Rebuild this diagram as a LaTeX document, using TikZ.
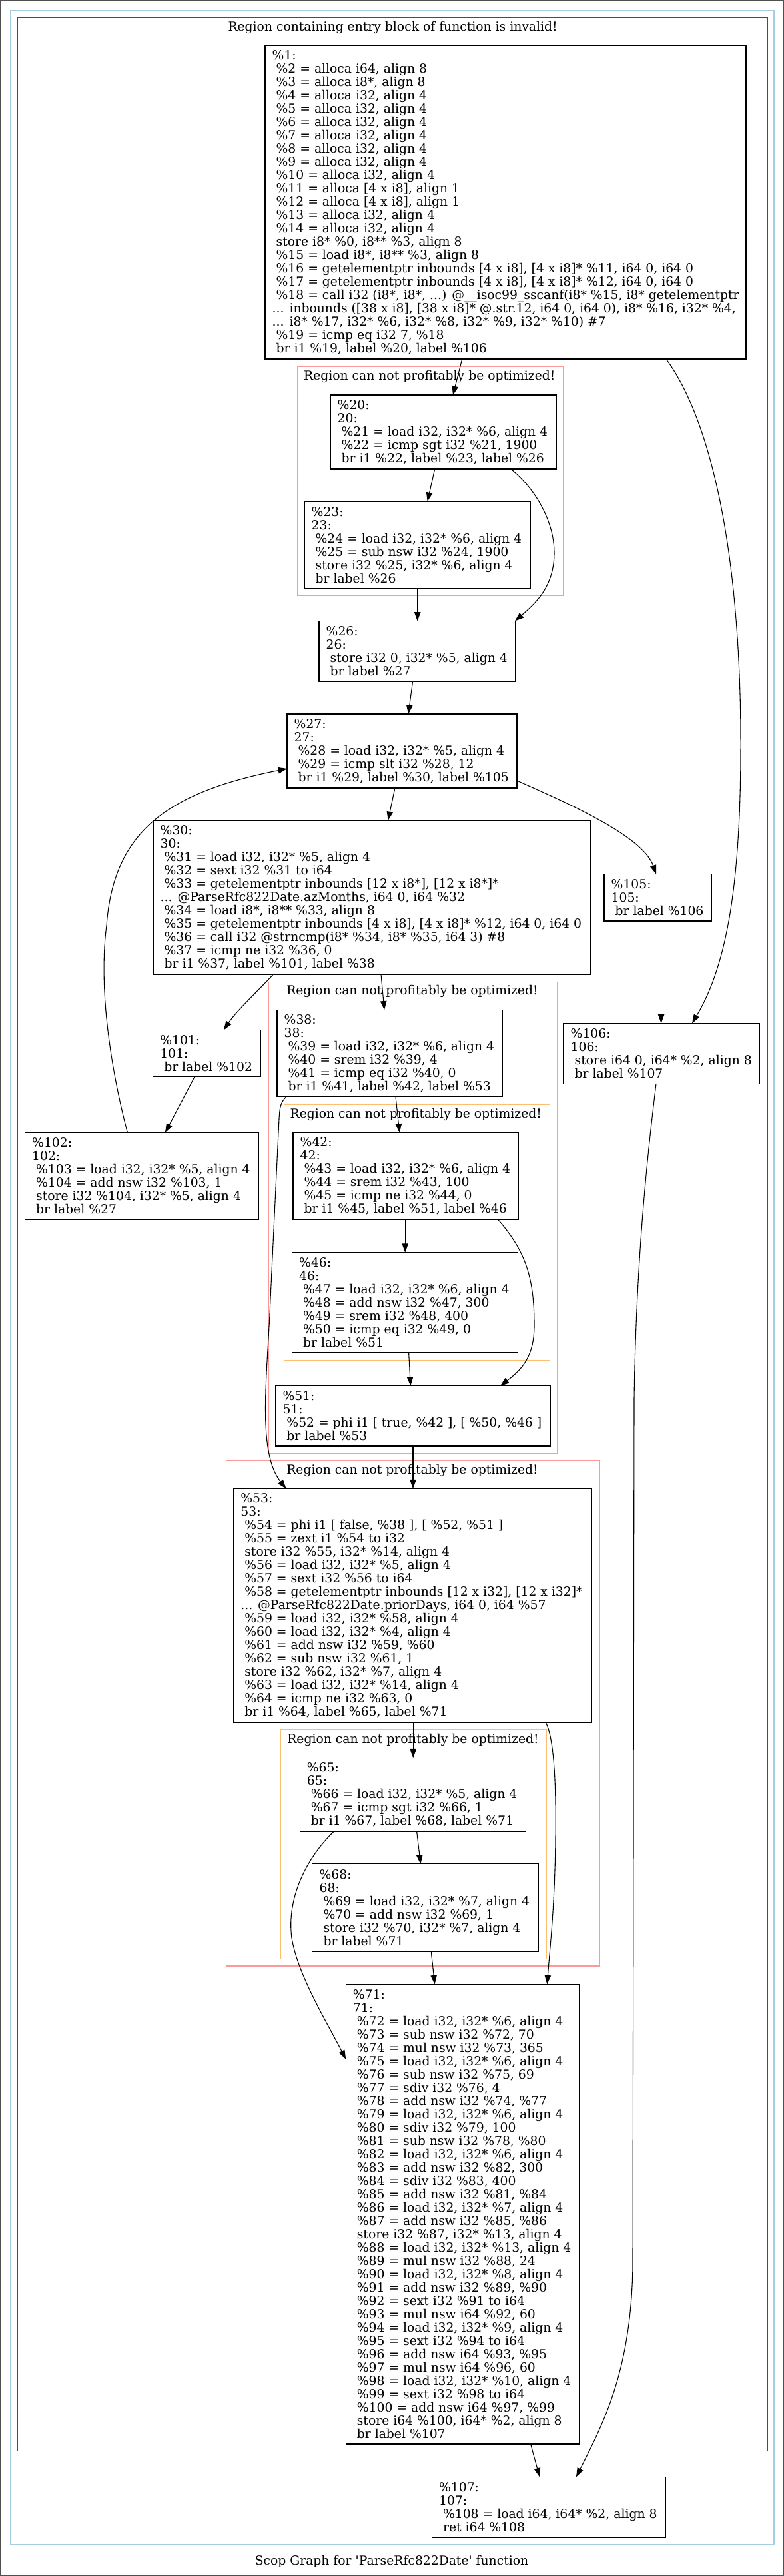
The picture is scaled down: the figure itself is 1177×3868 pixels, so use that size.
\documentclass[tikz,border=0pt]{standalone}
\usepackage{fontspec}
\setmainfont{DejaVu Serif}[Ligatures=TeXOff]
\usetikzlibrary{arrows.meta,fit}
\definecolor{lb}{HTML}{A6CEE3}
\definecolor{pk}{HTML}{FB9A99}
\definecolor{og}{HTML}{FDBF6F}
\definecolor{fr}{HTML}{505050}
\newcommand\nl{\\\hspace*{0.318em}}
\begin{document}
\begin{tikzpicture}[x=1pt,y=-1pt,
 box/.style={draw, line width=1.1pt, inner sep=0pt, outer sep=0pt},
 txt/.style={inner sep=0pt, anchor=west, align=left, font=\fontsize{18.75}{20}\selectfont},
 ttl/.style={inner sep=0pt, font=\fontsize{18.75}{20}\selectfont},
 edge/.style={draw, line width=1.1pt, -{Triangle[length=13.4pt,width=9.4pt]}},
 clu/.style={line width=1.34pt}]
\useasboundingbox (0,0) rectangle (1177,3868);
\draw[fr, line width=1.5pt] (0.75,0.75) rectangle (1176.25,3867.25);
\draw[lb, clu] (16,16) rectangle (1162,3821);
\draw[red, clu] (26.7,26.7) rectangle (1152.5,3680.7);
\node[ttl] (tr) at (589.6,41.7) {Region containing entry block of function is invalid!};
\draw[pk, clu] (446.7,550.7) rectangle (845.3,894.6);
\node[ttl] (tpa) at (644.8,565.4) {Region can not profitably be optimized!};
\draw[pk, clu] (403.6,1474.6) rectangle (836.2,2182.3);
\node[ttl] (tpb) at (618.9,1488.6) {Region can not profitably be optimized!};
\draw[og, clu] (426.2,1658.2) rectangle (825.5,2042.3);
\node[ttl] (tob) at (624.3,1673.2) {Region can not profitably be optimized!};
\draw[pk, clu] (339.6,2193.3) rectangle (900.3,2951.8);
\node[ttl] (tpc) at (619,2208.3) {Region can not profitably be optimized!};
\draw[og, clu] (421.2,2597.1) rectangle (820,2941.4);
\node[ttl] (toc) at (620,2612) {Region can not profitably be optimized!};
\node[ttl] (cap) at (588,3846) {Scop Graph for 'ParseRfc822Date' function};

\node[box, fit={(398,68)(1120,539)}] (n1) {};
\node[box, fit={(496,593)(835,704)}] (n20) {};
\node[box, fit={(457,753)(796,884)}] (n23) {};
\node[box, fit={(479,932.5)(774,1023)}] (n26) {};
\node[box, fit={(431,1072)(776,1183)}] (n27) {};
\node[box, fit={(230,1232)(887,1463)}] (n30) {};
\node[box, fit={(907,1312.5)(1068,1383)}] (n105) {};
\node[box, fit={(229.6,1546.4)(391.1,1616.8)}] (n101) {};
\node[box, fit={(37.5,1700.7)(388.8,1831.4)}] (n102) {};
\node[box, fit={(416,1516.4)(754.4,1646.8)}] (n38) {};
\node[box, fit={(440,1700.7)(778.3,1831.4)}] (n42) {};
\node[box, fit={(438.5,1880.7)(777.2,2031)}] (n46) {};
\node[box, fit={(413.8,2080.7)(826.4,2171)}] (n51) {};
\node[box, fit={(846,1536.4)(1140.2,1627.1)}] (n106) {};
\node[box, fit={(350.7,2235.3)(888.8,2586)}] (n53) {};
\node[box, fit={(450.2,2639.3)(789.4,2750)}] (n65) {};
\node[box, fit={(468.9,2798.9)(808,2930)}] (n68) {};
\node[box, fit={(519.2,2979.3)(870,3670)}] (n71) {};
\node[box, fit={(648.4,3719.3)(999.1,3810)}] (n107) {};

\node[txt] (t1) at ([xshift=10.5]n1.west) {\%1:\nl \%2 = alloca i64, align 8\nl \%3 = alloca i8*, align 8\nl \%4 = alloca i32, align 4\nl \%5 = alloca i32, align 4\nl \%6 = alloca i32, align 4\nl \%7 = alloca i32, align 4\nl \%8 = alloca i32, align 4\nl \%9 = alloca i32, align 4\nl \%10 = alloca i32, align 4\nl \%11 = alloca [4 x i8], align 1\nl \%12 = alloca [4 x i8], align 1\nl \%13 = alloca i32, align 4\nl \%14 = alloca i32, align 4\nl store i8* \%0, i8** \%3, align 8\nl \%15 = load i8*, i8** \%3, align 8\nl \%16 = getelementptr inbounds [4 x i8], [4 x i8]* \%11, i64 0, i64 0\nl \%17 = getelementptr inbounds [4 x i8], [4 x i8]* \%12, i64 0, i64 0\nl \%18 = call i32 (i8*, i8*, ...) @\_\_isoc99\_sscanf(i8* \%15, i8* getelementptr\\... inbounds ([38 x i8], [38 x i8]* @.str.12, i64 0, i64 0), i8* \%16, i32* \%4,\\... i8* \%17, i32* \%6, i32* \%8, i32* \%9, i32* \%10) \#7\nl \%19 = icmp eq i32 7, \%18\nl br i1 \%19, label \%20, label \%106};
\node[txt] (t20) at ([xshift=10.5]n20.west) {\%20:\\20:\nl \%21 = load i32, i32* \%6, align 4\nl \%22 = icmp sgt i32 \%21, 1900\nl br i1 \%22, label \%23, label \%26};
\node[txt] (t23) at ([xshift=10.5]n23.west) {\%23:\\23:\nl \%24 = load i32, i32* \%6, align 4\nl \%25 = sub nsw i32 \%24, 1900\nl store i32 \%25, i32* \%6, align 4\nl br label \%26};
\node[txt] (t26) at ([xshift=10.5]n26.west) {\%26:\\26:\nl store i32 0, i32* \%5, align 4\nl br label \%27};
\node[txt] (t27) at ([xshift=10.5]n27.west) {\%27:\\27:\nl \%28 = load i32, i32* \%5, align 4\nl \%29 = icmp slt i32 \%28, 12\nl br i1 \%29, label \%30, label \%105};
\node[txt] (t30) at ([xshift=10.5]n30.west) {\%30:\\30:\nl \%31 = load i32, i32* \%5, align 4\nl \%32 = sext i32 \%31 to i64\nl \%33 = getelementptr inbounds [12 x i8*], [12 x i8*]*\\... @ParseRfc822Date.azMonths, i64 0, i64 \%32\nl \%34 = load i8*, i8** \%33, align 8\nl \%35 = getelementptr inbounds [4 x i8], [4 x i8]* \%12, i64 0, i64 0\nl \%36 = call i32 @strncmp(i8* \%34, i8* \%35, i64 3) \#8\nl \%37 = icmp ne i32 \%36, 0\nl br i1 \%37, label \%101, label \%38};
\node[txt] (t105) at ([xshift=10.5]n105.west) {\%105:\\105:\nl br label \%106};
\node[txt] (t101) at ([xshift=10.5]n101.west) {\%101:\\101:\nl br label \%102};
\node[txt] (t102) at ([xshift=10.5]n102.west) {\%102:\\102:\nl \%103 = load i32, i32* \%5, align 4\nl \%104 = add nsw i32 \%103, 1\nl store i32 \%104, i32* \%5, align 4\nl br label \%27};
\node[txt] (t38) at ([xshift=10.5]n38.west) {\%38:\\38:\nl \%39 = load i32, i32* \%6, align 4\nl \%40 = srem i32 \%39, 4\nl \%41 = icmp eq i32 \%40, 0\nl br i1 \%41, label \%42, label \%53};
\node[txt] (t42) at ([xshift=10.5]n42.west) {\%42:\\42:\nl \%43 = load i32, i32* \%6, align 4\nl \%44 = srem i32 \%43, 100\nl \%45 = icmp ne i32 \%44, 0\nl br i1 \%45, label \%51, label \%46};
\node[txt] (t46) at ([xshift=10.5]n46.west) {\%46:\\46:\nl \%47 = load i32, i32* \%6, align 4\nl \%48 = add nsw i32 \%47, 300\nl \%49 = srem i32 \%48, 400\nl \%50 = icmp eq i32 \%49, 0\nl br label \%51};
\node[txt] (t51) at ([xshift=10.5]n51.west) {\%51:\\51:\nl \%52 = phi i1 [ true, \%42 ], [ \%50, \%46 ]\nl br label \%53};
\node[txt] (t106) at ([xshift=10.5]n106.west) {\%106:\\106:\nl store i64 0, i64* \%2, align 8\nl br label \%107};
\node[txt] (t53) at ([xshift=10.5]n53.west) {\%53:\\53:\nl \%54 = phi i1 [ false, \%38 ], [ \%52, \%51 ]\nl \%55 = zext i1 \%54 to i32\nl store i32 \%55, i32* \%14, align 4\nl \%56 = load i32, i32* \%5, align 4\nl \%57 = sext i32 \%56 to i64\nl \%58 = getelementptr inbounds [12 x i32], [12 x i32]*\\... @ParseRfc822Date.priorDays, i64 0, i64 \%57\nl \%59 = load i32, i32* \%58, align 4\nl \%60 = load i32, i32* \%4, align 4\nl \%61 = add nsw i32 \%59, \%60\nl \%62 = sub nsw i32 \%61, 1\nl store i32 \%62, i32* \%7, align 4\nl \%63 = load i32, i32* \%14, align 4\nl \%64 = icmp ne i32 \%63, 0\nl br i1 \%64, label \%65, label \%71};
\node[txt] (t65) at ([xshift=10.5]n65.west) {\%65:\\65:\nl \%66 = load i32, i32* \%5, align 4\nl \%67 = icmp sgt i32 \%66, 1\nl br i1 \%67, label \%68, label \%71};
\node[txt] (t68) at ([xshift=10.5]n68.west) {\%68:\\68:\nl \%69 = load i32, i32* \%7, align 4\nl \%70 = add nsw i32 \%69, 1\nl store i32 \%70, i32* \%7, align 4\nl br label \%71};
\node[txt] (t71) at ([xshift=10.5]n71.west) {\%71:\\71:\nl \%72 = load i32, i32* \%6, align 4\nl \%73 = sub nsw i32 \%72, 70\nl \%74 = mul nsw i32 \%73, 365\nl \%75 = load i32, i32* \%6, align 4\nl \%76 = sub nsw i32 \%75, 69\nl \%77 = sdiv i32 \%76, 4\nl \%78 = add nsw i32 \%74, \%77\nl \%79 = load i32, i32* \%6, align 4\nl \%80 = sdiv i32 \%79, 100\nl \%81 = sub nsw i32 \%78, \%80\nl \%82 = load i32, i32* \%6, align 4\nl \%83 = add nsw i32 \%82, 300\nl \%84 = sdiv i32 \%83, 400\nl \%85 = add nsw i32 \%81, \%84\nl \%86 = load i32, i32* \%7, align 4\nl \%87 = add nsw i32 \%85, \%86\nl store i32 \%87, i32* \%13, align 4\nl \%88 = load i32, i32* \%13, align 4\nl \%89 = mul nsw i32 \%88, 24\nl \%90 = load i32, i32* \%8, align 4\nl \%91 = add nsw i32 \%89, \%90\nl \%92 = sext i32 \%91 to i64\nl \%93 = mul nsw i64 \%92, 60\nl \%94 = load i32, i32* \%9, align 4\nl \%95 = sext i32 \%94 to i64\nl \%96 = add nsw i64 \%93, \%95\nl \%97 = mul nsw i64 \%96, 60\nl \%98 = load i32, i32* \%10, align 4\nl \%99 = sext i32 \%98 to i64\nl \%100 = add nsw i64 \%97, \%99\nl store i64 \%100, i64* \%2, align 8\nl br label \%107};
\node[txt] (t107) at ([xshift=10.5]n107.west) {\%107:\\107:\nl \%108 = load i64, i64* \%2, align 8\nl ret i64 \%108};

\draw[edge] ([xshift=295.7]n1.south west) -- ([xshift=184]n20.north west);
\draw[edge] ([xshift=602]n1.south west) .. controls (1060,620) and (1110,800) .. (1112,1100) .. controls (1113,1300) and (1097,1440) .. ([xshift=193]n106.north west);
\draw[edge] ([xshift=156.7]n20.south west) -- ([xshift=184.7]n23.north west);
\draw[edge] ([xshift=270.7]n20.south west) .. controls (800,730) and (832,780) .. (832,830) .. controls (832,880) and (805,905) .. ([xshift=-1]n26.north east);
\draw[edge] ([xshift=169.7]n23.south west) -- ([xshift=147.7]n26.north west);
\draw[edge] ([xshift=140.6]n26.south west) -- ([xshift=182]n27.north west);
\draw[edge] ([xshift=161.9]n27.south west) -- ([xshift=352.6]n30.north west);
\draw[edge] ([yshift=11]n27.south east) .. controls (850,1205) and (965,1255) .. ([xshift=78]n105.north west);
\draw[edge] ([xshift=180.3]n30.south west) .. controls (385,1490) and (355,1518) .. ([xshift=106.4]n101.north west);
\draw[edge] ([xshift=342]n30.south west) -- ([xshift=161]n38.north west);
\draw[edge] ([xshift=13.4]n38.south west) .. controls (421,1656) and (420,1662) .. (419,1680) -- (406,1950) .. controls (402,2060) and (385,2180) .. ([xshift=78.8]n53.north west);
\draw[edge] ([xshift=178]n38.south west) -- ([xshift=159.8]n42.north west);
\draw[edge] ([xshift=168.2]n42.south west) -- ([xshift=169.7]n46.north west);
\draw[edge] ([xshift=307.8]n42.south west) .. controls (790,1880) and (802,1920) .. (802,1990) .. controls (802,2035) and (785,2055) .. ([xshift=337.2]n51.north west);
\draw[edge] ([xshift=175.1]n46.south west) -- ([xshift=202.5]n51.north west);
\draw[edge] ([xshift=206.2]n51.south west) -- ([xshift=269.3]n53.north west);
\draw[edge] ([xshift=269.5]n53.south west) -- ([xshift=170]n65.north west);
\draw[edge] ([xshift=468.5]n53.south west) .. controls (832,2610) and (835,2680) .. (834,2760) .. controls (833,2860) and (826,2920) .. ([xshift=302.1]n71.north west);
\draw[edge] ([xshift=175.4]n65.south west) -- ([xshift=162.5]n68.north west);
\draw[edge] ([xshift=51]n65.south west) .. controls (460,2790) and (430,2850) .. (438,2910) .. controls (447,2965) and (490,3035) .. ([yshift=-112.4]n71.north west);
\draw[edge] ([xshift=178.3]n68.south west) -- ([xshift=133.4]n71.north west);
\draw[edge] ([xshift=277.4]n71.south west) -- ([xshift=161.6]n107.north west);
\draw[edge] ([xshift=139]n106.south west) .. controls (970,1750) and (955,1900) .. (952,2100) -- (950,3400) .. controls (948,3560) and (905,3640) .. ([xshift=216.6]n107.north west);
\draw[edge] ([xshift=62.4]n101.south west) -- ([xshift=210.5]n102.north west);
\draw[edge] ([xshift=153.9]n102.north west) .. controls (165,1600) and (148,1480) .. (160,1390) .. controls (170,1250) and (250,1190) .. ([yshift=-82]n27.north west);
\draw[edge] ([xshift=85.6]n105.south west) -- ([xshift=146.6]n106.north west);
\end{tikzpicture}
\end{document}
